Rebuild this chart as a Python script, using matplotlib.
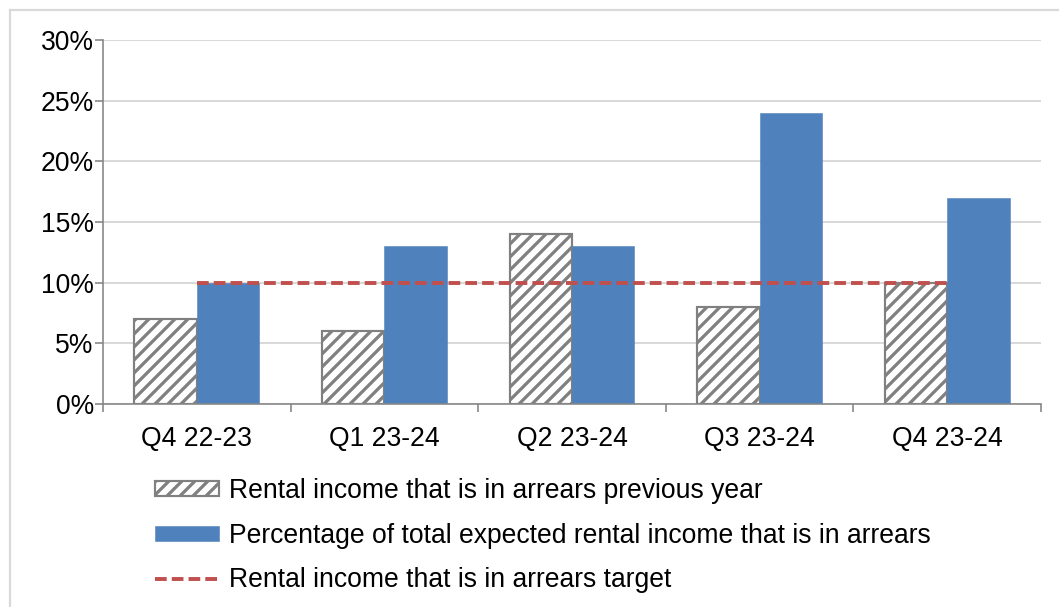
import numpy as np
import matplotlib.pyplot as plt

quarters = ['Q4 22-23', 'Q1 23-24', 'Q2 23-24', 'Q3 23-24', 'Q4 23-24']
prev_year = [7, 6, 14, 8, 10]
arrears = [10, 13, 13, 24, 17]
target = [10, 10, 10, 10, 10]

DPI = 78
FS = 24.5
plt.rcParams['font.family'] = ['Liberation Sans', 'DejaVu Sans']
plt.rcParams['hatch.linewidth'] = 3.0
plt.rcParams['hatch.color'] = '#808080'

fig = plt.figure(figsize=(1059 / DPI, 607 / DPI), dpi=DPI)
ax = fig.add_axes([103 / 1059, 1 - 404 / 607, (1041 - 103) / 1059, (404 - 40) / 607])

# light frame round the whole chart (top and left only visible)
fig.add_artist(plt.Line2D([10 / 1059, 1], [1 - 10 / 607] * 2, transform=fig.transFigure,
                          color='#D9D9D9', lw=2))
fig.add_artist(plt.Line2D([10 / 1059] * 2, [0, 1 - 10 / 607], transform=fig.transFigure,
                          color='#D9D9D9', lw=2))

x = np.arange(len(quarters))
w = 0.333
b1 = ax.bar(x - w / 2, prev_year, w, color='white', edgecolor='#808080', hatch='//',
            linewidth=2, label='Rental income that is in arrears previous year', zorder=2)
b2 = ax.bar(x + w / 2, arrears, w, color='#4F81BD', edgecolor='#4F81BD', linewidth=0.5,
            label='Percentage of total expected rental income that is in arrears', zorder=2)
ln, = ax.plot(x, target, color='#C0504D', lw=3.6, dashes=(3, 1.3),
              label='Rental income that is in arrears target', zorder=3)

ax.set_xlim(-0.5, len(quarters) - 0.5)
ax.set_ylim(0, 30)
ax.set_yticks(range(0, 31, 5))
ax.set_yticklabels(['%d%%' % v for v in range(0, 31, 5)])
ax.set_xticks(x)
ax.set_xticklabels(quarters)
ax.set_xticks(np.arange(-0.5, len(quarters)), minor=True)
ax.tick_params(axis='x', which='major', length=0, pad=20, labelsize=FS)
ax.tick_params(axis='x', which='minor', length=7, width=1.5, color='#868686')
ax.tick_params(axis='y', length=7, width=1.5, color='#868686', pad=1.5, labelsize=FS)
ax.yaxis.grid(True, color='#D9D9D9', lw=1.8, zorder=0)
ax.set_axisbelow(True)
for s in ['top', 'right']:
    ax.spines[s].set_visible(False)
for s in ['left', 'bottom']:
    ax.spines[s].set_color('#868686')
    ax.spines[s].set_linewidth(1.5)

fig.legend(handles=[b1, b2, ln], loc='upper left', bbox_to_anchor=(155 / 1059, 1 - 478 / 607),
           frameon=False, fontsize=FS, handlelength=2.4, handleheight=0.5,
           handletextpad=0.37, labelspacing=0.7, borderaxespad=0, borderpad=0)

fig.savefig('out.png', dpi=DPI)
